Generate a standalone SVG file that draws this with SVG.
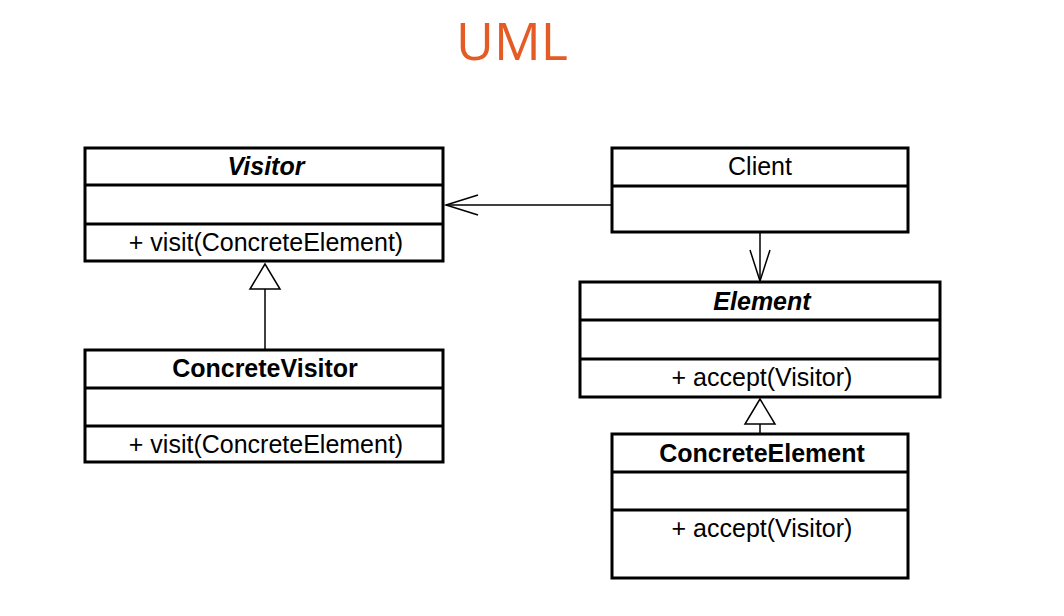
<svg xmlns="http://www.w3.org/2000/svg" width="1064" height="616" viewBox="0 0 1064 616">
<style>
.box{fill:#fff;stroke:#000;stroke-width:3}
.div{stroke:#000;stroke-width:3}
.t{font-family:"Liberation Sans",Arial,sans-serif;font-size:25px;fill:#000;text-anchor:middle}
.b{font-weight:bold}
.bi{font-weight:bold;font-style:italic}
.ln{stroke:#000;stroke-width:1.5;fill:none}
.tri{fill:#fff;stroke:#000;stroke-width:1.5}
</style>
<rect width="1064" height="616" fill="#fff"/>
<text x="512" y="60" font-family="'Open Sans','Noto Sans',sans-serif" font-size="52" fill="#E55B26" text-anchor="middle">UML</text>
<g id="connectors">
<line class="ln" x1="612" y1="205" x2="446" y2="205"/>
<polyline class="ln" points="478,195 446,205 478,215"/>
<line class="ln" x1="760" y1="232" x2="760" y2="281"/>
<polyline class="ln" points="750,250 760,281 770,250"/>
<line class="ln" x1="265" y1="289" x2="265" y2="350"/>
<polygon class="tri" points="265,264 250,289 280,289"/>
<line class="ln" x1="760" y1="424" x2="760" y2="434"/>
<polygon class="tri" points="760,399 745,424 775,424"/>
</g>
<g id="visitor">
<rect class="box" x="85" y="148" width="358" height="113"/>
<line class="div" x1="85" y1="185" x2="443" y2="185"/>
<line class="div" x1="85" y1="224" x2="443" y2="224"/>
<text class="t bi" x="266" y="175">Visitor</text>
<text class="t" x="266" y="251">+ visit(ConcreteElement)</text>
</g>
<g id="concretevisitor">
<rect class="box" x="85" y="350" width="358" height="112"/>
<line class="div" x1="85" y1="388" x2="443" y2="388"/>
<line class="div" x1="85" y1="426" x2="443" y2="426"/>
<text class="t b" x="265" y="377">ConcreteVisitor</text>
<text class="t" x="266" y="453">+ visit(ConcreteElement)</text>
</g>
<g id="client">
<rect class="box" x="612" y="148" width="296" height="84"/>
<line class="div" x1="612" y1="186" x2="908" y2="186"/>
<text class="t" x="760" y="175">Client</text>
</g>
<g id="element">
<rect class="box" x="580" y="282" width="360" height="115"/>
<line class="div" x1="580" y1="320" x2="940" y2="320"/>
<line class="div" x1="580" y1="359" x2="940" y2="359"/>
<text class="t bi" x="762" y="310">Element</text>
<text class="t" x="762" y="386">+ accept(Visitor)</text>
</g>
<g id="concreteelement">
<rect class="box" x="612" y="434" width="296" height="144"/>
<line class="div" x1="612" y1="472" x2="908" y2="472"/>
<line class="div" x1="612" y1="510" x2="908" y2="510"/>
<text class="t b" x="762" y="462">ConcreteElement</text>
<text class="t" x="762" y="537">+ accept(Visitor)</text>
</g>
</svg>
